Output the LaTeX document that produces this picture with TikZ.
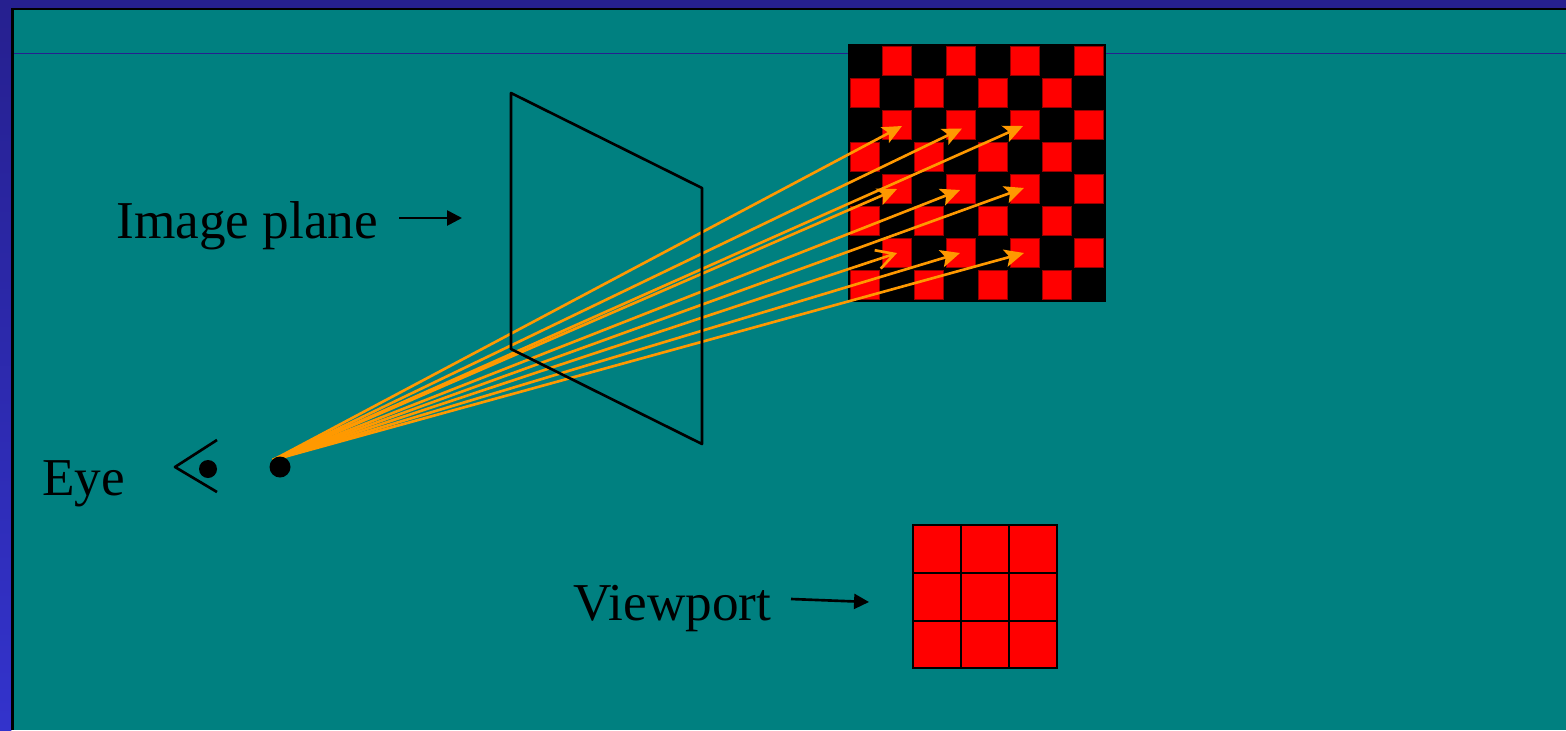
\documentclass[tikz,border=0pt]{standalone}
\usepackage{fontspec}
\setmainfont{Liberation Serif}
\usetikzlibrary{arrows.meta}
\definecolor{tealbg}{RGB}{0,128,128}
\definecolor{bordertop}{RGB}{38,32,143}
\definecolor{borderlow}{RGB}{51,51,204}
\definecolor{rayorange}{RGB}{255,153,0}
\definecolor{cellrim}{RGB}{150,0,0}
\tikzset{
  redcell/.style={fill=red,draw=cellrim,line width=0.5pt},
  planeline/.style={draw=black,line width=1.5pt,line join=round},
  rayline/.style={draw=rayorange,line width=1.5pt,-{Stealth[length=11pt,width=10pt,inset=2.5pt]}},
  openray/.style={draw=rayorange,line width=1.5pt,-{Straight Barb[length=10pt,width=11pt]}},
  pointerline/.style={draw=black,line width=1.5pt,-{Triangle[length=8.5pt,width=8.5pt]}},
  bigtext/.style={font=\fontsize{30.3}{36}\selectfont,inner sep=0pt,anchor=base west}
}
\begin{document}
\begin{tikzpicture}[x=1cm,y=1cm]
\useasboundingbox (0,0) rectangle (31.32,-14.6);
\fill[tealbg] (0,0) rectangle (31.32,-14.6);
\shade[top color=bordertop,bottom color=borderlow] (0,0) rectangle (0.23,-14.6);
\fill[bordertop] (0,0) rectangle (31.32,-0.15);
\fill[black] (0.23,-0.15) rectangle (31.32,-0.19);
\fill[black] (0.23,-0.15) rectangle (0.27,-14.6);
\draw[bordertop,line width=0.5pt] (0.27,-1.07) -- (31.32,-1.07);
% checker board
\fill[black] (16.96,-0.88) rectangle (22.12,-6.04);
\draw[redcell] (17.65,-0.93) rectangle (18.23,-1.51);
\draw[redcell] (18.93,-0.93) rectangle (19.51,-1.51);
\draw[redcell] (20.21,-0.93) rectangle (20.79,-1.51);
\draw[redcell] (21.49,-0.93) rectangle (22.07,-1.51);
\draw[redcell] (17.01,-1.57) rectangle (17.59,-2.15);
\draw[redcell] (18.29,-1.57) rectangle (18.87,-2.15);
\draw[redcell] (19.57,-1.57) rectangle (20.15,-2.15);
\draw[redcell] (20.85,-1.57) rectangle (21.43,-2.15);
\draw[redcell] (17.65,-2.21) rectangle (18.23,-2.79);
\draw[redcell] (18.93,-2.21) rectangle (19.51,-2.79);
\draw[redcell] (20.21,-2.21) rectangle (20.79,-2.79);
\draw[redcell] (21.49,-2.21) rectangle (22.07,-2.79);
\draw[redcell] (17.01,-2.85) rectangle (17.59,-3.43);
\draw[redcell] (18.29,-2.85) rectangle (18.87,-3.43);
\draw[redcell] (19.57,-2.85) rectangle (20.15,-3.43);
\draw[redcell] (20.85,-2.85) rectangle (21.43,-3.43);
\draw[redcell] (17.65,-3.49) rectangle (18.23,-4.07);
\draw[redcell] (18.93,-3.49) rectangle (19.51,-4.07);
\draw[redcell] (20.21,-3.49) rectangle (20.79,-4.07);
\draw[redcell] (21.49,-3.49) rectangle (22.07,-4.07);
\draw[redcell] (17.01,-4.13) rectangle (17.59,-4.71);
\draw[redcell] (18.29,-4.13) rectangle (18.87,-4.71);
\draw[redcell] (19.57,-4.13) rectangle (20.15,-4.71);
\draw[redcell] (20.85,-4.13) rectangle (21.43,-4.71);
\draw[redcell] (17.65,-4.77) rectangle (18.23,-5.35);
\draw[redcell] (18.93,-4.77) rectangle (19.51,-5.35);
\draw[redcell] (20.21,-4.77) rectangle (20.79,-5.35);
\draw[redcell] (21.49,-4.77) rectangle (22.07,-5.35);
\draw[redcell] (17.01,-5.41) rectangle (17.59,-5.99);
\draw[redcell] (18.29,-5.41) rectangle (18.87,-5.99);
\draw[redcell] (19.57,-5.41) rectangle (20.15,-5.99);
\draw[redcell] (20.85,-5.41) rectangle (21.43,-5.99);
% viewport
\fill[red] (18.26,-10.5) rectangle (21.14,-13.36);
\draw[black,line width=1.3pt] (18.26,-10.5) rectangle (21.14,-13.36);
\draw[black,line width=1.3pt] (19.22,-10.5) -- (19.22,-13.36);
\draw[black,line width=1.3pt] (20.18,-10.5) -- (20.18,-13.36);
\draw[black,line width=1.3pt] (18.26,-11.46) -- (21.14,-11.46);
\draw[black,line width=1.3pt] (18.26,-12.42) -- (21.14,-12.42);
% rays
\coordinate (eyepoint) at (5.46,-9.2);
\coordinate (hit1) at (18.04,-2.52);
\coordinate (hit2) at (19.24,-2.57);
\coordinate (hit3) at (20.46,-2.52);
\coordinate (hit4) at (17.94,-3.78);
\coordinate (hit5) at (19.20,-3.80);
\coordinate (hit6) at (20.48,-3.76);
\coordinate (hit7) at (17.94,-5.06);
\coordinate (hit8) at (19.20,-5.06);
\coordinate (hit9) at (20.48,-5.06);
\draw[rayline] (eyepoint) -- (hit1);
\draw[rayline] (eyepoint) -- (hit2);
\draw[rayline] (eyepoint) -- (hit3);
\draw[rayline] (eyepoint) -- (hit4);
\draw[rayline] (eyepoint) -- (hit5);
\draw[rayline] (eyepoint) -- (hit6);
\draw[openray] (eyepoint) -- (hit7);
\draw[rayline] (eyepoint) -- (hit8);
\draw[rayline] (eyepoint) -- (hit9);
% image plane
\draw[planeline] (10.22,-1.86) -- (14.04,-3.76) -- (14.04,-8.88) -- (10.22,-6.98) -- cycle;
% eye
\fill[black] (5.6,-9.34) circle (0.21);
\draw[planeline] (4.34,-8.8) -- (3.5,-9.34) -- (4.34,-9.84);
\fill[black] (4.16,-9.38) circle (0.18);
% labels
\node[bigtext] (planelabel) at (2.32,-4.76) {Image plane};
\node[bigtext] (eyelabel) at (0.84,-9.9) {Eye};
\node[bigtext] (viewlabel) at (11.46,-12.4) {Viewport};
\coordinate (planetail) at (7.98,-4.36);
\coordinate (planehead) at (9.24,-4.36);
\coordinate (viewtail) at (15.82,-11.98);
\coordinate (viewhead) at (17.38,-12.04);
\draw[pointerline] (planetail) -- (planehead);
\draw[pointerline] (viewtail) -- (viewhead);
\end{tikzpicture}
\end{document}
